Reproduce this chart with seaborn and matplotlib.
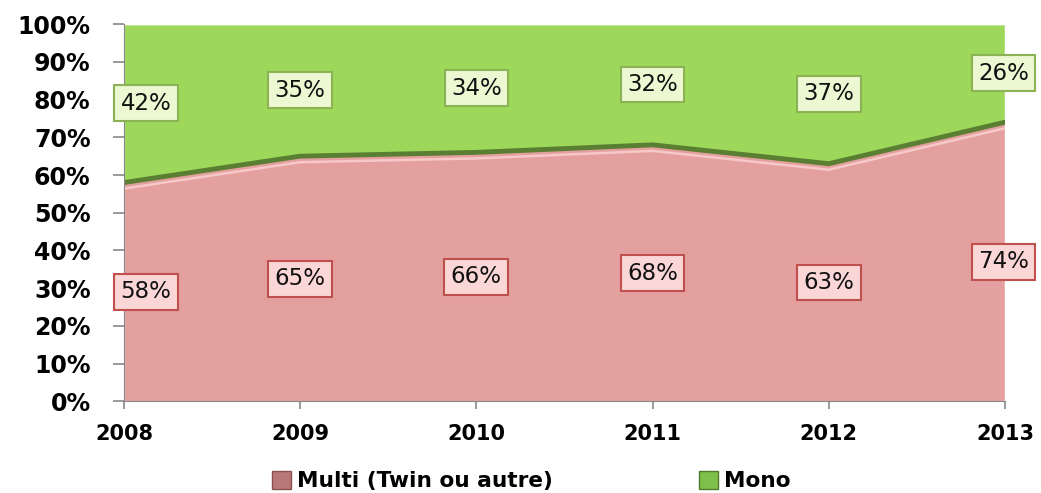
import matplotlib
matplotlib.use("Agg")
import matplotlib.pyplot as plt
import seaborn as sns
import numpy as np
import pandas as pd
from matplotlib.patches import Patch

# donnees
annees = [2008, 2009, 2010, 2011, 2012, 2013]
multi = [58, 65, 66, 68, 63, 74]
mono = [42, 35, 34, 32, 37, 26]
noms = ["Multi (Twin ou autre)", "Mono"]

sns.set_style("white")
plt.rcParams['font.family'] = ['DejaVu Sans']

fig, ax = plt.subplots(figsize=(10.41, 4.93), dpi=100)
fig.subplots_adjust(left=0.119, right=0.9654, top=0.951, bottom=0.186)

df = pd.DataFrame({'annee': annees, 'multi': multi, 'mono': mono})

ax.stackplot(df['annee'], df['multi'], df['mono'], colors=['#e4a09f', '#9dd85a'])

# bord 3D approximatif
sns.lineplot(x='annee', y='multi', data=df, ax=ax, color='#5a7f32', lw=3.5)
sns.lineplot(x=df['annee'], y=df['multi'] - 1.6, ax=ax, color='#f6c8c7', lw=1.8)

# etiquettes (celles de 2008 decalees vers la droite comme dans Excel)
for x, m, o in zip(annees, multi, mono):
    dx = 16 if x == annees[0] else (-1 if x == annees[-1] else 0)
    ax.annotate(f'{m}%', (x, m / 2), xytext=(dx, 0), textcoords='offset points',
                ha='center', va='center', fontsize=16.5, color='#111111',
                bbox=dict(boxstyle='square,pad=0.28', fc='#fbd6d6', ec='#c0504d', lw=1.5))
    ax.annotate(f'{o}%', (x, m + o / 2), xytext=(dx, 0), textcoords='offset points',
                ha='center', va='center', fontsize=16.5, color='#111111',
                bbox=dict(boxstyle='square,pad=0.28', fc='#ebf8d2', ec='#8db255', lw=1.5))

ax.set_xlim(2008, 2013)
ax.set_ylim(0, 100)
ax.set_yticks(range(0, 101, 10))
ax.set_yticklabels([f'{v}%' for v in range(0, 101, 10)], fontsize=17, fontweight='bold')
ax.set_xticks(annees)
ax.set_xticklabels([str(a) for a in annees], fontsize=15, fontweight='bold')
ax.tick_params(axis='both', direction='out', color='#888888', width=1.2,
               labelcolor='black', bottom=True, left=True)
ax.tick_params(axis='x', length=6, pad=10)
ax.tick_params(axis='y', length=8, pad=16)
ax.set_xlabel('')
ax.set_ylabel('')
for s in ['top', 'right']:
    ax.spines[s].set_visible(False)
ax.spines['left'].set_color('#888888')
ax.spines['bottom'].set_color('#888888')

handles = [Patch(fc='#b87878', ec='#8a5050'), Patch(fc='#7fc04a', ec='#4f7a2a')]
fig.legend(handles, noms, loc='center', ncol=2, frameon=False,
           bbox_to_anchor=(0.510, 0.024), columnspacing=6.75, handlelength=0.9,
           handleheight=0.9, handletextpad=0.25, labelcolor='black',
           prop={'weight': 'bold', 'size': 15.6})

fig.savefig('out.png', dpi=100)
